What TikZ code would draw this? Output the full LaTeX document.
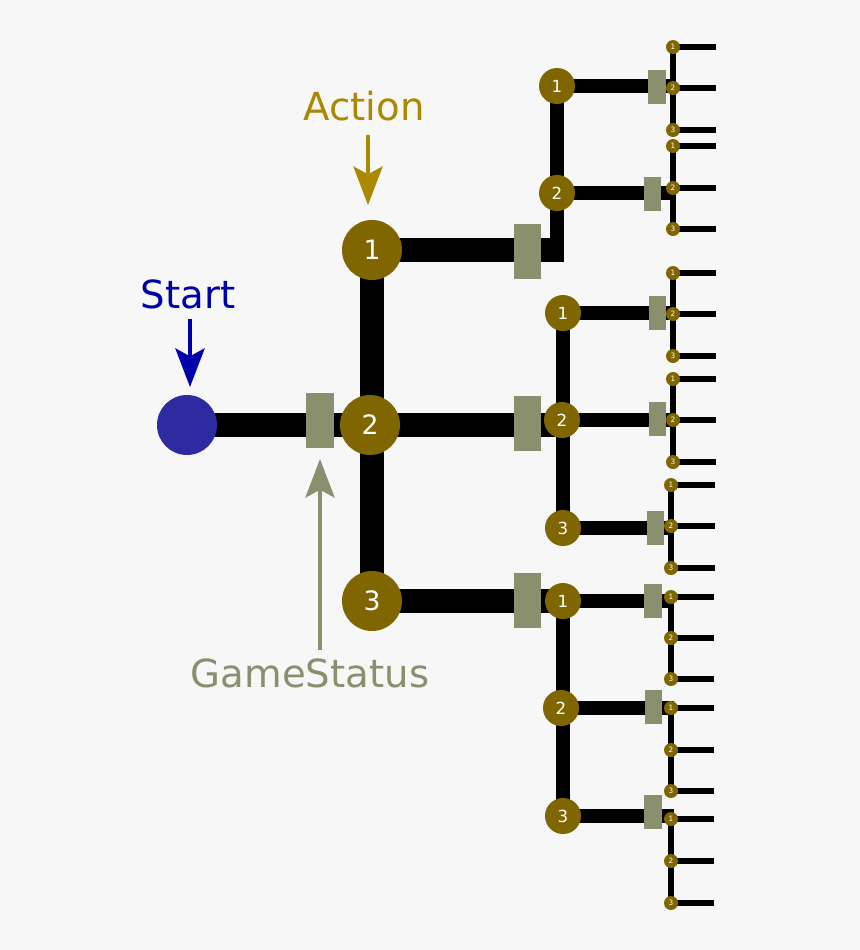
\documentclass[tikz,border=0pt]{standalone}
\usepackage{fontspec}
\setmainfont{DejaVu Sans}
\usetikzlibrary{arrows.meta}
\definecolor{bgc}{HTML}{F7F7F7}
\definecolor{olivec}{HTML}{806600}
\definecolor{gsc}{HTML}{8A906E}
\definecolor{startc}{HTML}{2E2BA0}
\definecolor{startt}{HTML}{0000AA}
\definecolor{actc}{HTML}{AA8800}
\pgfdeclarelayer{edges}
\pgfsetlayers{edges,main}
\begin{document}
\begin{tikzpicture}[x=0.75pt,y=-0.75pt,
  startnode/.style={circle,fill=startc,minimum size=45pt,inner sep=0pt},
  lvone/.style={circle,fill=olivec,minimum size=45pt,inner sep=0pt,text=white,font=\fontsize{20}{20}\selectfont},
  lvtwo/.style={circle,fill=olivec,minimum size=27pt,inner sep=0pt,text=white,font=\fontsize{12.5}{12.5}\selectfont},
  lvthree/.style={circle,fill=olivec,minimum size=10.5pt,inner sep=0pt,text=white,font=\fontsize{5.5}{5.5}\selectfont},
  gsbig/.style={rectangle,fill=gsc,minimum width=20.5pt,minimum height=41pt,inner sep=0pt},
  gssmall/.style={rectangle,fill=gsc,minimum width=13pt,minimum height=25.5pt,inner sep=0pt},
  eone/.style={line width=17.5pt,black},
  etwo/.style={line width=11pt,black},
  ethree/.style={line width=4.3pt,black},
  lab/.style={font=\fontsize{29}{29}\selectfont,anchor=base,inner sep=0pt},
  arr/.style={line width=2.3pt,-{Stealth[length=29pt,width=22pt,inset=6pt]}}
]
\useasboundingbox (0,0) rectangle (860,950);
\begin{pgfonlayer}{edges}
  \fill[bgc] (0,0) rectangle (860,950);
\end{pgfonlayer}

% start and level one
\node[startnode] (S) at (187,425) {};
\node[lvone] (a1) at (372,250) {1};
\node[lvone] (a2) at (370,425) {2};
\node[lvone] (a3) at (372,601) {3};
\node[gsbig] (g0) at (320,420.5) {};
\node[gsbig] (g1) at (527.5,251.5) {};
\node[gsbig] (g2) at (527.5,423.5) {};
\node[gsbig] (g3) at (527.5,600.5) {};

\coordinate (j1) at (557,250);
\coordinate (j1b) at (557,262);
\coordinate (j2) at (555,425);

% level two and three
\foreach \g/\x/\y/\l/\rx/\ry/\tx/\ya/\yb/\yc/\ex in {
  A/557/86/1/657/87/673/47/88/130/716,
  B/557/193/2/652.5/194/673/146/188/229/716,
  C/563/313/1/657.5/313/673/273/314/356/716,
  D/562/420/2/657.5/419/673/379/420/462/716,
  E/563/528/3/655.5/527.5/671/485/526/568/715,
  F/563/601/1/653/601/671/597/638/679/714,
  G/561/708/2/653.5/707/671/708/750/791/714,
  H/563/816/3/653/811.5/671/819/861/903/714}{
  \node[lvtwo] (\g) at (\x,\y) {\l};
  \node[gssmall] (r\g) at (\rx,\ry) {};
  \node[lvthree] (\g-1) at (\tx,\ya) {1};
  \node[lvthree] (\g-2) at (\tx,\yb) {2};
  \node[lvthree] (\g-3) at (\tx,\yc) {3};
  \coordinate (t\g) at ({\tx+3},\y);
  \coordinate (e\g-1) at (\ex,\ya);
  \coordinate (e\g-2) at (\ex,\yb);
  \coordinate (e\g-3) at (\ex,\yc);
  \begin{pgfonlayer}{edges}
    \draw[etwo] (\g.center) -- (t\g);
    \draw[ethree] (\g-1.center) -- (\g-3.center);
    \draw[ethree] (\g-1.center) -- (e\g-1);
    \draw[ethree] (\g-2.center) -- (e\g-2);
    \draw[ethree] (\g-3.center) -- (e\g-3);
  \end{pgfonlayer}
}

\begin{pgfonlayer}{edges}
  \draw[eone] (S.center) -- (a2.center);
  \draw[eone] (a1.center) -- (a3.center);
  \draw[eone] (a1.center) -- (j1);
  \draw[etwo] (A.center) -- (j1b);
  \draw[eone] (a2.center) -- (j2);
  \draw[etwo] (C.center) -- (E.center);
  \draw[eone] (a3.center) -- (F.center);
  \draw[etwo] (F.center) -- (H.center);
\end{pgfonlayer}

% labels and arrows
\node[lab,text=startt] (tStart) at (188,308) {Start};
\node[lab,text=actc] (tAction) at (364,120) {Action};
\node[lab,text=gsc] (tGame) at (310,687) {GameStatus};
\coordinate (sa) at (190,319);
\coordinate (sb) at (190,387);
\coordinate (aa) at (368,135);
\coordinate (ab) at (368,205);
\coordinate (ga) at (320,650);
\coordinate (gb) at (320,459);
\draw[arr,startt] (sa) -- (sb);
\draw[arr,actc] (aa) -- (ab);
\draw[arr,gsc] (ga) -- (gb);
\end{tikzpicture}
\end{document}
